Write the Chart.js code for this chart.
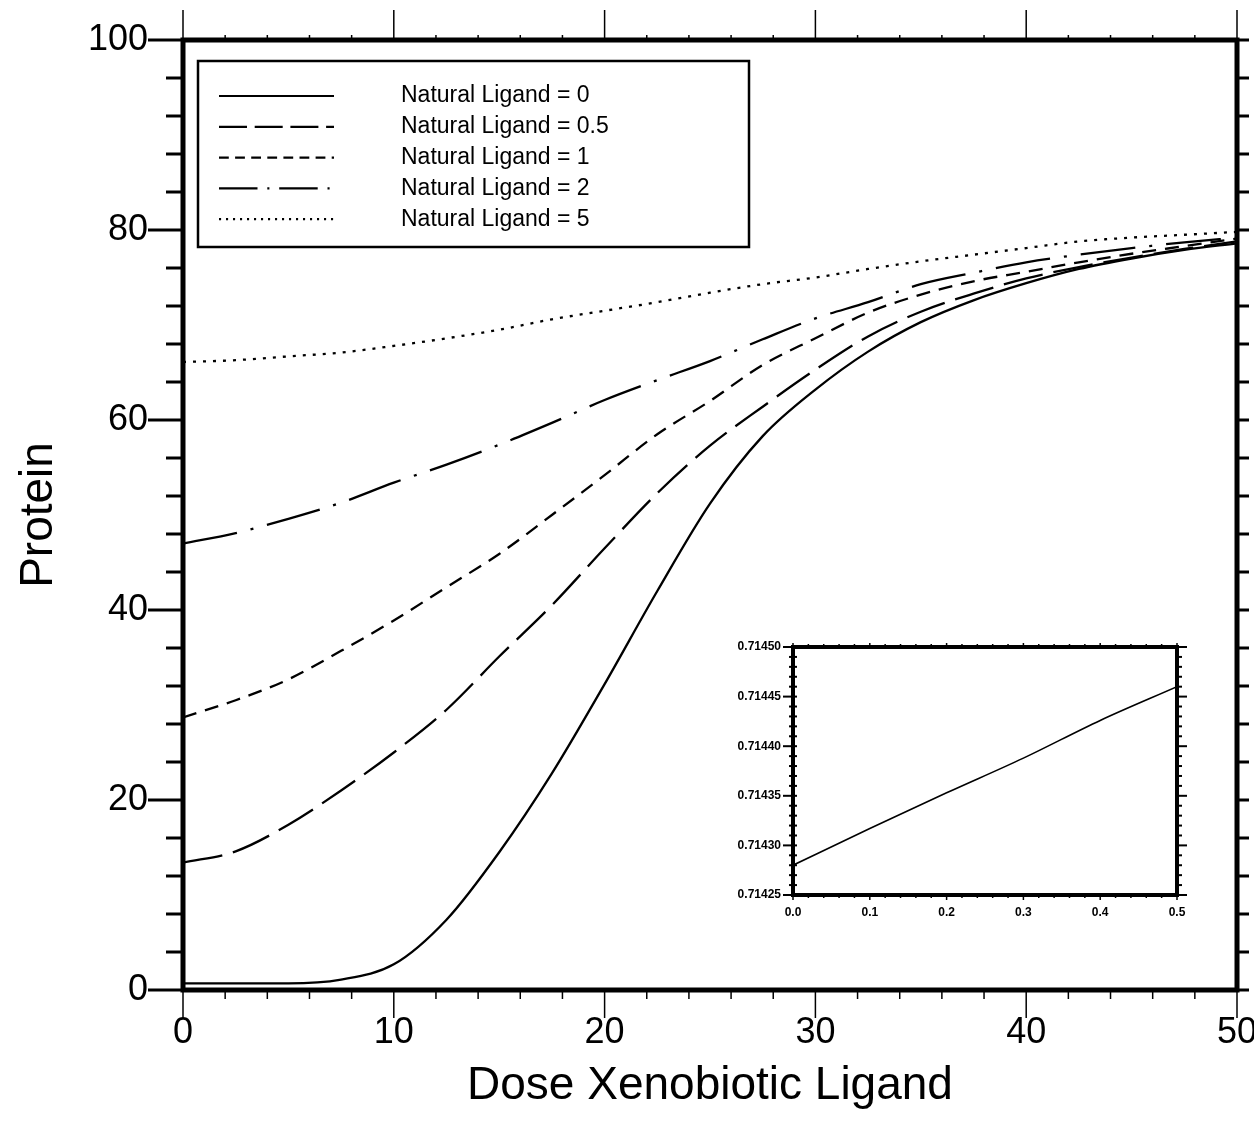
<!DOCTYPE html>
<html>
<head>
<meta charset="utf-8">
<script src="https://cdn.jsdelivr.net/npm/chart.js@4.4.1/dist/chart.umd.min.js"></script>
<style>
  html, body { margin: 0; padding: 0; background: #fff; overflow: hidden; }
  #wrap { position: relative; width: 1280px; height: 1138px; }
  #main { position: absolute; left: 0; top: 0; }
  #inset { position: absolute; left: 680px; top: 620px; }
</style>
</head>
<body>
<div id="wrap">
  <canvas id="main" width="1280" height="1138"></canvas>
  <canvas id="inset" width="520" height="300"></canvas>
</div>
<script>
// Datos
const dosis = [0, 2.5, 5, 7.5, 10, 12.5, 15, 17.5, 20, 22.5, 25, 27.5, 30, 32.5, 35, 37.5, 40, 42.5, 45, 47.5, 50];
const ligando0   = [0.7, 0.7, 0.7, 1.1, 2.7, 7.4, 14.5, 22.8, 32.2, 42.0, 51.2, 58.3, 63.2, 67.2, 70.3, 72.6, 74.4, 75.9, 77.0, 77.9, 78.6];
const ligando05  = [13.4, 14.6, 17.4, 21.0, 25.0, 29.5, 35.1, 40.5, 46.5, 52.3, 57.3, 61.4, 65.3, 68.8, 71.4, 73.3, 74.9, 76.1, 77.1, 78.0, 78.8];
const ligando1   = [28.7, 30.5, 32.7, 35.7, 38.9, 42.4, 45.9, 50.0, 54.2, 58.5, 62.0, 65.8, 68.6, 71.3, 73.2, 74.6, 75.6, 76.6, 77.5, 78.3, 79.1];
const ligando2   = [47.0, 48.1, 49.6, 51.3, 53.4, 55.3, 57.4, 59.7, 62.1, 64.2, 66.2, 68.5, 70.7, 72.4, 74.3, 75.5, 76.6, 77.4, 78.1, 78.7, 79.2];
const ligando5   = [66.1, 66.3, 66.7, 67.1, 67.8, 68.6, 69.5, 70.6, 71.5, 72.4, 73.4, 74.3, 75.0, 75.9, 76.7, 77.4, 78.1, 78.8, 79.2, 79.5, 79.8];
const etiquetas  = ['Natural Ligand = 0', 'Natural Ligand = 0.5', 'Natural Ligand = 1', 'Natural Ligand = 2', 'Natural Ligand = 5'];
const trazos     = [[], [40, 11], [14, 9], [55, 14, 3, 14], [3, 7]];

// Datos del recuadro (detalle cerca de cero)
const dosisDetalle   = [0, 0.1, 0.2, 0.3, 0.4, 0.5];
const proteinDetalle = [0.714280, 0.714317, 0.714353, 0.714388, 0.714426, 0.714460];

const fuente = "'Liberation Sans', Arial, sans-serif";
const puntos = (xs, ys) => xs.map((x, i) => ({ x: x, y: ys[i] }));

// Marco grueso y marcas de los ejes
const marcoPlugin = {
    id: 'marco',
    afterDraw(chart, args, o) {
        const { ctx, chartArea: a, scales: { x, y } } = chart;
        ctx.save();
        ctx.strokeStyle = '#000';
        ctx.lineCap = 'butt';
        const marcas = (scale, lado, cfg) => {
            const n = Math.round((scale.max - scale.min) / cfg.paso);
            ctx.lineWidth = cfg.ancho;
            for (let i = 0; i <= n; i++) {
                const v = scale.min + i * cfg.paso;
                const mayor = i % cfg.cada === 0;
                const largo = mayor ? cfg.mayor : cfg.menor;
                const p = scale.getPixelForValue(v);
                ctx.beginPath();
                if (lado === 'left') { ctx.moveTo(a.left - largo, p); ctx.lineTo(a.left + (cfg.dentro || 0), p); }
                if (lado === 'right') { ctx.moveTo(a.right - (cfg.dentro || 0), p); ctx.lineTo(a.right + largo, p); }
                if (lado === 'bottom') { ctx.moveTo(p, a.bottom - (cfg.dentro || 0)); ctx.lineTo(p, a.bottom + largo); }
                if (lado === 'top') { ctx.moveTo(p, a.top - largo); ctx.lineTo(p, a.top + (cfg.dentro || 0)); }
                ctx.stroke();
            }
        };
        marcas(y, 'left', o.izq);
        marcas(y, 'right', o.der);
        marcas(x, 'bottom', o.abajo);
        marcas(x, 'top', o.arriba);
        ctx.lineWidth = o.grosor;
        ctx.strokeRect(a.left, a.top, a.right - a.left, a.bottom - a.top);
        ctx.restore();
    }
};

// Leyenda dentro del area del grafico
const leyendaPlugin = {
    id: 'leyenda',
    afterDraw(chart) {
        const { ctx, chartArea: a } = chart;
        const x0 = a.left + 15, y0 = a.top + 21, w = 551, h = 186;
        ctx.save();
        ctx.fillStyle = '#fff';
        ctx.fillRect(x0, y0, w, h);
        ctx.strokeStyle = '#000';
        ctx.lineWidth = 2.5;
        ctx.strokeRect(x0, y0, w, h);
        ctx.font = '23px ' + fuente;
        ctx.fillStyle = '#000';
        ctx.textBaseline = 'middle';
        chart.data.datasets.forEach((ds, i) => {
            const yy = y0 + 35 + i * 30.8;
            ctx.beginPath();
            ctx.setLineDash(ds.borderDash.map(d => d * 0.7));
            ctx.lineWidth = 2.2;
            ctx.moveTo(x0 + 21, yy);
            ctx.lineTo(x0 + 136, yy);
            ctx.stroke();
            ctx.setLineDash([]);
            ctx.fillText(ds.label, x0 + 203, yy);
        });
        ctx.restore();
    }
};

const seriesPrincipales = [ligando0, ligando05, ligando1, ligando2, ligando5];

const graficoPrincipal = new Chart(document.getElementById('main').getContext('2d'), {
    type: 'line',
    data: {
        datasets: seriesPrincipales.map((serie, i) => ({
            label: etiquetas[i],
            data: puntos(dosis, serie),
            borderColor: '#000',
            borderWidth: 2.3,
            borderDash: trazos[i],
            pointRadius: 0,
            fill: false,
            cubicInterpolationMode: 'monotone'
        }))
    },
    options: {
        responsive: false,
        animation: false,
        layout: { padding: { left: 0, top: 40, right: 43, bottom: 0 } },
        plugins: {
            legend: { display: false },
            tooltip: { enabled: false },
            marco: {
                grosor: 5,
                izq: { paso: 4, cada: 5, menor: 17, mayor: 35, ancho: 3 },
                der: { paso: 4, cada: 5, menor: 12, mayor: 12, ancho: 3 },
                abajo: { paso: 2, cada: 5, menor: 9, mayor: 28, ancho: 1.5 },
                arriba: { paso: 2, cada: 5, menor: 5, mayor: 30, ancho: 1.5 }
            }
        },
        scales: {
            x: {
                type: 'linear', min: 0, max: 50,
                grid: { display: false, drawTicks: false },
                border: { display: false },
                ticks: { stepSize: 10, padding: 21, color: '#000', font: { family: fuente, size: 36 } },
                title: { display: true, text: 'Dose Xenobiotic Ligand', color: '#000', font: { family: fuente, size: 46 }, padding: { top: 0, bottom: 24 } },
                afterFit: s => { s.height = 148; }
            },
            y: {
                min: 0, max: 100,
                grid: { display: false, drawTicks: false },
                border: { display: false },
                ticks: { stepSize: 20, padding: 35, color: '#000', font: { family: fuente, size: 36 } },
                title: { display: true, text: 'Protein', color: '#000', font: { family: fuente, size: 46 }, padding: { top: 12, bottom: 0 } },
                afterFit: s => { s.width = 183; s.paddingTop = 0; s.paddingBottom = 0; }
            }
        }
    },
    plugins: [marcoPlugin, leyendaPlugin]
});

const graficoDetalle = new Chart(document.getElementById('inset').getContext('2d'), {
    type: 'line',
    data: {
        datasets: [{
            label: 'detalle',
            data: puntos(dosisDetalle, proteinDetalle),
            borderColor: '#000',
            borderWidth: 1.6,
            pointRadius: 0,
            fill: false,
            cubicInterpolationMode: 'monotone'
        }]
    },
    options: {
        responsive: false,
        animation: false,
        layout: { padding: { left: 0, top: 27, right: 23, bottom: 0 } },
        plugins: {
            legend: { display: false },
            tooltip: { enabled: false },
            marco: {
                grosor: 4,
                izq: { paso: 0.00001, cada: 5, menor: 4, mayor: 10, ancho: 2, dentro: 4 },
                der: { paso: 0.00001, cada: 5, menor: 5, mayor: 10, ancho: 2 },
                abajo: { paso: 0.02, cada: 5, menor: 3, mayor: 5, ancho: 1.5 },
                arriba: { paso: 0.02, cada: 5, menor: 3, mayor: 4, ancho: 1.5 }
            }
        },
        scales: {
            x: {
                type: 'linear', min: 0, max: 0.5,
                grid: { display: false, drawTicks: false },
                border: { display: false },
                ticks: { stepSize: 0.1, padding: 10, color: '#000', font: { family: fuente, size: 12, weight: 'bold' }, callback: v => v.toFixed(1) },
                afterFit: s => { s.height = 25; }
            },
            y: {
                min: 0.71425, max: 0.71450,
                grid: { display: false, drawTicks: false },
                border: { display: false },
                ticks: { stepSize: 0.00005, padding: 12, color: '#000', font: { family: fuente, size: 12, weight: 'bold' }, callback: v => v.toFixed(5) },
                afterFit: s => { s.width = 113; s.paddingTop = 0; s.paddingBottom = 0; }
            }
        }
    },
    plugins: [marcoPlugin]
});
</script>
</body>
</html>
